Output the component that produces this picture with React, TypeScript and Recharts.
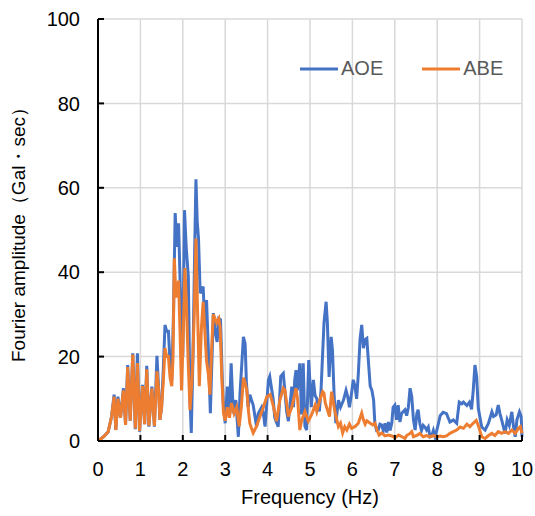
import { LineChart, Line, XAxis, YAxis, CartesianGrid, Legend } from 'recharts';

// Fourier amplitude spectra (frequency in Hz, amplitude in Gal·sec)
const aoeFreq = [
  0, 0.13, 0.24, 0.32, 0.38, 0.42, 0.47, 0.53, 0.6, 0.65, 0.7, 0.76, 0.82, 0.88, 0.93, 0.98,
  1.05, 1.1, 1.15, 1.2, 1.27, 1.33, 1.39, 1.43, 1.46, 1.5, 1.54, 1.58, 1.62, 1.66, 1.7, 1.74,
  1.78, 1.82, 1.86, 1.9, 1.94, 1.97, 2.0, 2.04, 2.08, 2.13, 2.17, 2.2, 2.24, 2.28, 2.31, 2.34,
  2.37, 2.41, 2.45, 2.48, 2.52, 2.56, 2.6, 2.65, 2.72, 2.78, 2.81, 2.85, 2.89, 2.93, 2.96, 3.0,
  3.05, 3.1, 3.14, 3.19, 3.25, 3.31, 3.35, 3.43, 3.47, 3.5, 3.54, 3.58, 3.62, 3.66, 3.74, 3.78,
  3.86, 3.9, 3.94, 4.02, 4.05, 4.13, 4.17, 4.25, 4.31, 4.37, 4.45, 4.49, 4.57, 4.61, 4.64, 4.67,
  4.7, 4.76, 4.8, 4.84, 4.88, 4.92, 4.97, 5.03, 5.08, 5.12, 5.16, 5.22, 5.26, 5.33, 5.38, 5.41,
  5.45, 5.5, 5.53, 5.57, 5.61, 5.67, 5.72, 5.79, 5.85, 5.89, 5.93, 5.98, 6.02, 6.06, 6.1, 6.14,
  6.18, 6.22, 6.26, 6.3, 6.34, 6.38, 6.42, 6.46, 6.5, 6.53, 6.57, 6.61, 6.65, 6.69, 6.73, 6.77,
  6.81, 6.85, 6.89, 6.93, 6.96, 7.0, 7.04, 7.08, 7.12, 7.16, 7.2, 7.24, 7.28, 7.32, 7.36, 7.4,
  7.44, 7.48, 7.52, 7.55, 7.59, 7.63, 7.67, 7.71, 7.75, 7.79, 7.83, 7.87, 7.91, 7.95, 7.99, 8.03,
  8.07, 8.14, 8.22, 8.3, 8.38, 8.46, 8.52, 8.58, 8.62, 8.7, 8.76, 8.81, 8.85, 8.89, 8.93, 8.97,
  9.05, 9.13, 9.21, 9.29, 9.33, 9.39, 9.44, 9.48, 9.52, 9.56, 9.6, 9.65, 9.7, 9.76, 9.8, 9.84,
  9.88, 9.94, 9.98, 10.0,
];
const aoeAmp = [
  0, 1, 2.2, 5.8, 11, 2.6, 10.5, 5.5, 12.5, 3.8, 18, 4.8, 20.8, 2.8, 20.8, 2.2,
  13.3, 4, 17.8, 3.4, 12.9, 3.4, 20.2, 12.5, 5, 8, 17, 27.5, 26, 26, 18.5, 14.5,
  30, 54, 46, 51.6, 36.6, 29.5, 20, 54.7, 46, 39, 10, 1.9, 20, 45, 62, 52,
  48, 35, 35.8, 36.6, 27, 33.4, 22.3, 6.6, 30.3, 25, 23.5, 29, 28.7, 15, 8, 4.2,
  12.9, 6.6, 18.4, 6.6, 9.7, 1, 11.3, 24.7, 23, 14, 8, 11, 9.7, 8.5, 3.4, 6.5,
  8, 6.5, 3.4, 14.5, 15.3, 10, 5.5, 3.4, 15.3, 16, 7, 4.7, 12.9, 8, 14.5, 16.8,
  12, 18.4, 6.3, 18.4, 3.5, 2.6, 19.2, 8, 14.5, 10.8, 10, 7, 12, 28, 33, 28,
  15.2, 24.7, 21.5, 10.5, 4.2, 9.7, 8, 9.7, 12, 10.5, 8, 11.3, 14.5, 13, 10, 16,
  24, 27.5, 22, 24, 24.3, 18.5, 13, 12, 9.7, 4.2, 2.5, 2.6, 4, 3.8, 2.5, 4.2,
  2, 4.5, 2.5, 4.3, 8, 8.5, 5, 8.5, 4.5, 6.5, 7, 7.4, 6, 8, 12.5, 10.5,
  5, 2.6, 6.5, 7.4, 4.2, 2.5, 3.7, 3.3, 2.6, 3.3, 1, 1.2, 2.5, 1, 2.5, 4.2,
  6, 6.8, 6.5, 4.5, 5, 4.2, 9.2, 8.8, 9.2, 8.4, 9.2, 7.5, 12, 18, 15.3, 7.7,
  3.3, 2.6, 4.2, 6.9, 5.8, 6.2, 8.5, 6.5, 5, 3.4, 1.8, 5, 3.7, 6.9, 3.4, 1,
  5, 6.9, 5.8, 1,
];

const abeFreq = [
  0, 0.13, 0.24, 0.32, 0.38, 0.42, 0.47, 0.53, 0.6, 0.65, 0.7, 0.76, 0.82, 0.88, 0.93, 0.98,
  1.05, 1.1, 1.15, 1.2, 1.27, 1.33, 1.39, 1.43, 1.46, 1.5, 1.54, 1.58, 1.62, 1.66, 1.7, 1.74,
  1.77, 1.8, 1.83, 1.86, 1.9, 1.94, 1.97, 2.01, 2.05, 2.08, 2.13, 2.17, 2.22, 2.27, 2.31, 2.35,
  2.39, 2.44, 2.48, 2.52, 2.56, 2.6, 2.64, 2.68, 2.72, 2.76, 2.8, 2.85, 2.88, 2.92, 2.96, 3.0,
  3.05, 3.1, 3.15, 3.21, 3.27, 3.33, 3.38, 3.43, 3.47, 3.51, 3.55, 3.58, 3.62, 3.66, 3.74, 3.82,
  3.9, 3.98, 4.06, 4.13, 4.21, 4.29, 4.37, 4.41, 4.49, 4.57, 4.64, 4.67, 4.71, 4.76, 4.8, 4.88,
  4.96, 5.04, 5.12, 5.16, 5.24, 5.3, 5.33, 5.36, 5.46, 5.51, 5.57, 5.61, 5.67, 5.72, 5.77, 5.82,
  5.87, 5.93, 5.98, 6.06, 6.14, 6.22, 6.26, 6.3, 6.34, 6.42, 6.48, 6.53, 6.58, 6.63, 6.69, 6.77,
  6.85, 6.93, 7.01, 7.09, 7.17, 7.24, 7.28, 7.36, 7.4, 7.44, 7.52, 7.59, 7.67, 7.75, 7.83, 7.91,
  7.99, 8.07, 8.14, 8.22, 8.3, 8.38, 8.46, 8.54, 8.62, 8.7, 8.77, 8.85, 8.92, 8.97, 9.05, 9.13,
  9.21, 9.29, 9.36, 9.44, 9.52, 9.6, 9.68, 9.76, 9.84, 9.92, 9.96, 10.0,
];
const abeAmp = [
  0, 1, 2.2, 5.8, 10.5, 2.6, 10, 5.5, 12, 3.8, 17.5, 4.8, 20.5, 3, 18.5, 2.4,
  13, 4, 17, 3.6, 12.5, 3.6, 16.5, 12, 5, 8, 14, 22, 20, 20, 15, 13,
  20, 43.3, 36, 34, 38, 24, 12, 25, 41, 34, 18, 7.3, 15, 30, 48, 30,
  13, 27, 33, 26, 19, 16, 11, 22, 30, 29, 28, 29, 27, 15, 6.6, 4.8,
  8, 5.5, 9, 6.5, 8, 3.5, 8, 15, 13.7, 12, 7, 4.2, 3, 1.9, 3.5, 5.8,
  8, 10.5, 11, 8.5, 4.7, 9.7, 12.5, 12, 5.8, 8, 11, 12.5, 9.7, 2.6, 4.7, 7,
  4.7, 6.3, 8.5, 7, 10, 11.7, 11.3, 9, 5.8, 11.7, 8, 6, 3.4, 4.2, 1.9, 3.4,
  2.6, 4, 3, 3.4, 4.2, 6.6, 5, 4, 4.8, 4.2, 3.8, 4.2, 2.6, 1.4, 1.9, 1.2,
  1.4, 1.2, 0.8, 1.4, 1, 0.6, 1.3, 1.8, 2.2, 1, 1.3, 1.8, 1, 1.3, 1, 1.3,
  1, 1.2, 1, 1.2, 1.8, 2.2, 2.6, 3.3, 3, 4, 3.4, 4.2, 4.9, 3.6, 1, 0.6,
  1.3, 1.8, 1.3, 2.2, 1.8, 2.2, 1.8, 2.6, 1.8, 3.1, 3.4, 1.8,
];

const xTicks = [0, 1, 2, 3, 4, 5, 6, 7, 8, 9, 10];
const yTicks = [0, 20, 40, 60, 80, 100];

const aoeData = aoeFreq.map((f, i) => ({ f, v: aoeAmp[i] }));
const abeData = abeFreq.map((f, i) => ({ f, v: abeAmp[i] }));

const FONT = "'Liberation Sans', Arial, sans-serif";
const BLUE = '#4472C4';
const ORANGE = '#ED7D31';

const legendItems = [
  { name: 'AOE', color: BLUE },
  { name: 'ABE', color: ORANGE },
];

const renderLegend = () => (
  <div style={{ display: 'flex', alignItems: 'center', fontFamily: FONT, fontSize: 20, color: '#595959' }}>
    {legendItems.map((item) => (
      <div key={item.name} style={{ display: 'flex', alignItems: 'center', marginRight: 39 }}>
        <svg width={38} height={4}>
          <line x1={0} y1={2} x2={38} y2={2} stroke={item.color} strokeWidth={3} />
        </svg>
        <span style={{ marginLeft: 3 }}>{item.name}</span>
      </div>
    ))}
  </div>
);

export default function App() {
  return (
    <div style={{ position: 'absolute', left: 0, top: 0, width: 535, height: 516, background: '#fff' }}>
      <LineChart width={535} height={516} margin={{ top: 19, right: 13, left: 10, bottom: 0 }}>
        <CartesianGrid stroke="#d9d9d9" strokeWidth={1.5} />
        <XAxis
          type="number"
          dataKey="f"
          domain={[0, 10]}
          ticks={xTicks}
          height={75}
          stroke="#000"
          strokeWidth={2}
          tickSize={-6}
          tickMargin={27}
          tick={{ fill: '#000', fontSize: 20, fontFamily: FONT }}
          label={{ value: 'Frequency (Hz)', position: 'insideBottom', offset: 12, fill: '#000', fontSize: 20, fontFamily: FONT }}
        />
        <YAxis
          type="number"
          domain={[0, 100]}
          ticks={yTicks}
          width={88}
          stroke="#000"
          strokeWidth={2}
          tickSize={-6}
          tickMargin={24}
          tick={{ fill: '#000', fontSize: 20, fontFamily: FONT }}
          label={{
            value: 'Fourier amplitude（Gal・sec）',
            angle: -90,
            position: 'insideLeft',
            offset: 8,
            fill: '#000',
            fontSize: 19,
            fontFamily: FONT,
            style: { textAnchor: 'middle' },
          }}
        />
        <Legend
          layout="horizontal"
          verticalAlign="middle"
          content={renderLegend}
          wrapperStyle={{ top: 57, left: 300, width: 230 }}
        />
        <Line data={aoeData} dataKey="v" name="AOE" type="linear" stroke={BLUE} strokeWidth={3} dot={false} isAnimationActive={false} />
        <Line data={abeData} dataKey="v" name="ABE" type="linear" stroke={ORANGE} strokeWidth={3} dot={false} isAnimationActive={false} />
      </LineChart>
    </div>
  );
}
